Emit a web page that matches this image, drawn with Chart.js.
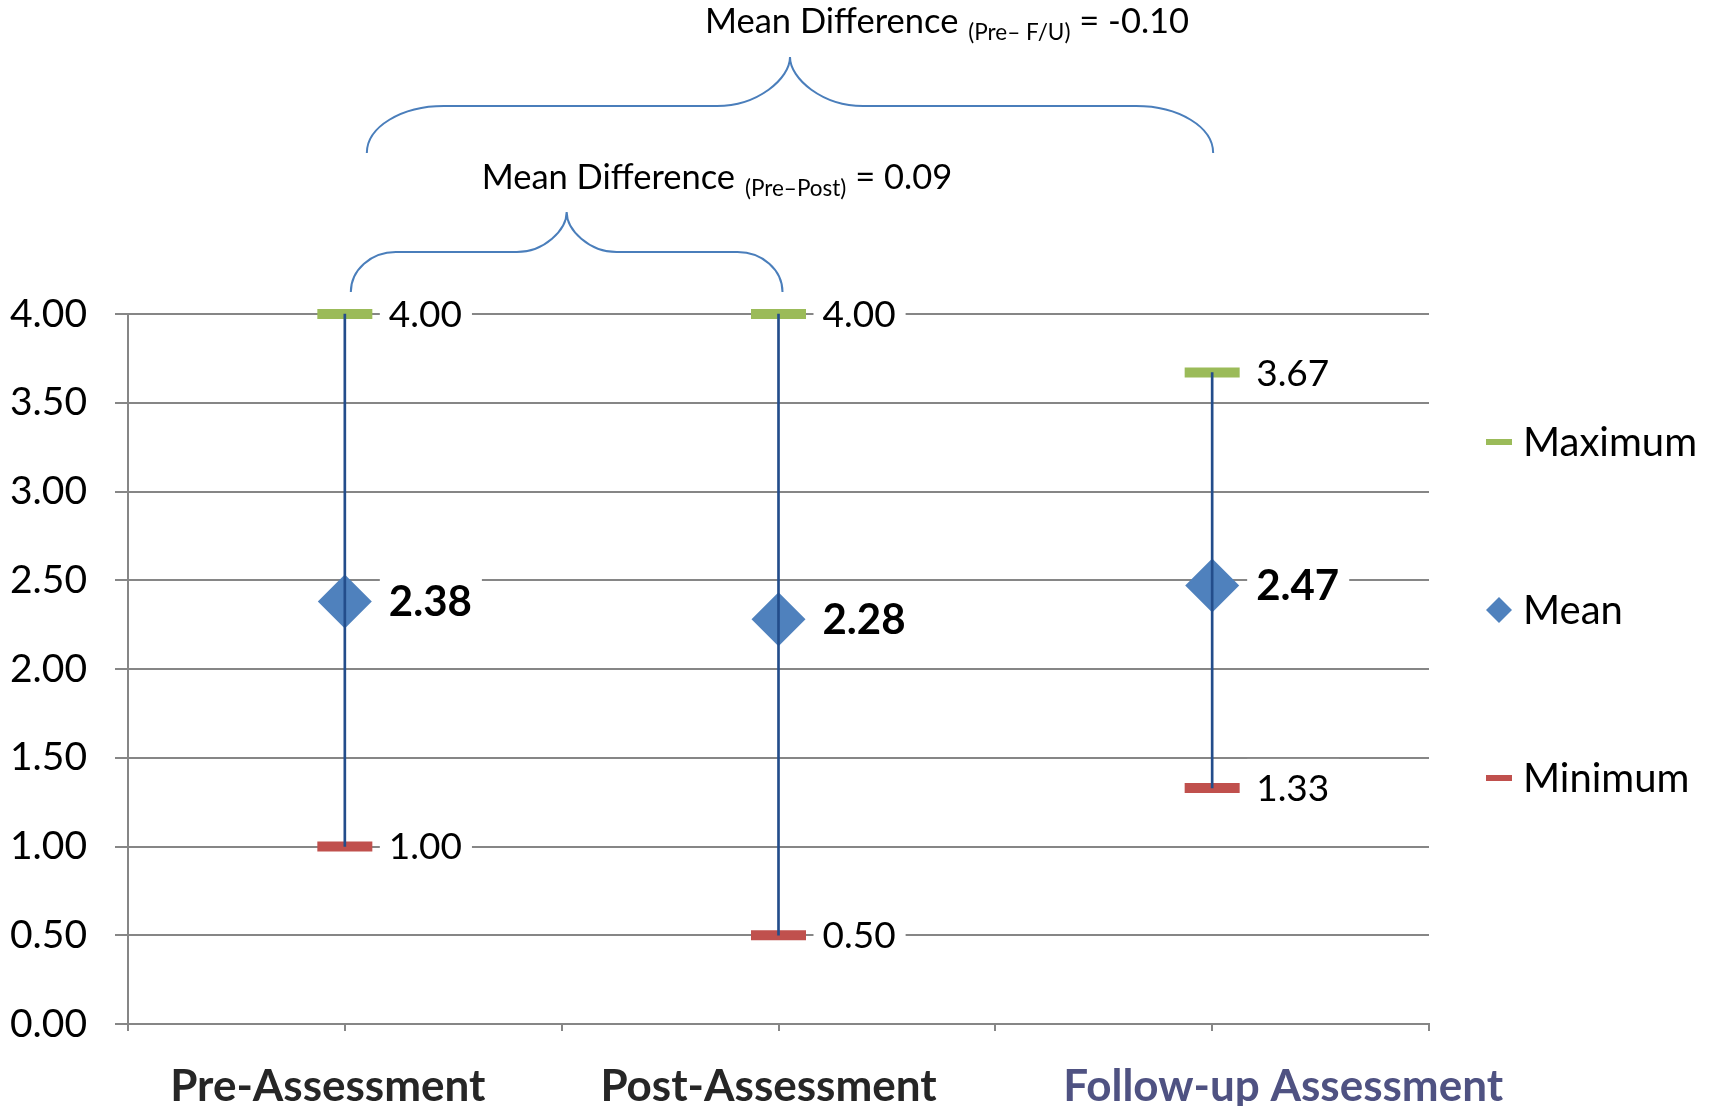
<!DOCTYPE html>
<html>
<head>
<meta charset="utf-8">
<script src="https://cdn.jsdelivr.net/npm/chart.js@4.4.1/dist/chart.umd.min.js"></script>
<style>
  html, body { margin: 0; padding: 0; background: #fff; }
  #wrap { width: 1714px; height: 1106px; position: relative; }
</style>
</head>
<body>
<div id="wrap"><canvas id="chart"></canvas></div>
<script>
// Chart data
const categories = ['Pre-Assessment', 'Post-Assessment', 'Follow-up Assessment'];
const maxValues = [4.00, 4.00, 3.67];
const meanValues = [2.38, 2.28, 2.47];
const minValues = [1.00, 0.50, 1.33];
const seriesNames = ['Maximum', 'Mean', 'Minimum'];

// Mean difference annotations (pairs of category indexes)
const diffPairs = [[0, 1], [0, 2]];
const diffSubscripts = ['(Pre\u2013Post)', '(Pre\u2013 F/U)'];
const diffValues = ['0.09', '-0.10'];

const FONT = 'Lato, "Open Sans", sans-serif';
const GRID = '#868686';

// category centre on the linear x axis
const xPos = i => i + 0.5;

// Value labels with white boxes to the right of each marker
const valueLabels = {
    id: 'valueLabels',
    afterDatasetsDraw(chart) {
        const ctx = chart.ctx;
        ctx.save();
        chart.data.datasets.forEach((ds, di) => {
            if (!ds.labelFont) return;
            const meta = chart.getDatasetMeta(di);
            ctx.font = ds.labelFont;
            ctx.textBaseline = 'middle';
            meta.data.forEach((pt, i) => {
                const txt = ds.data[i].y.toFixed(2);
                const w = ctx.measureText(txt).width;
                ctx.fillStyle = '#fff';
                ctx.fillRect(pt.x + 35, pt.y - 29, w + 19, 58);
                ctx.fillStyle = '#000';
                ctx.fillText(txt, pt.x + 44, pt.y + 1);
            });
        });
        ctx.restore();
    }
};

// Category labels under the x axis (follow-up label was shifted and coloured in the original)
const xLabels = {
    id: 'xLabels',
    afterDraw(chart) {
        const ctx = chart.ctx;
        const xs = chart.scales.x;
        const offsets = [-17, -10, 71];
        const colors = ['#262626', '#262626', '#4F5282'];
        ctx.save();
        ctx.font = 'bold 44px ' + FONT;
        ctx.textAlign = 'center';
        ctx.textBaseline = 'alphabetic';
        categories.forEach((c, i) => {
            ctx.fillStyle = colors[i];
            ctx.fillText(c, xs.getPixelForValue(xPos(i)) + offsets[i], 1101);
        });
        ctx.restore();
    }
};

// Legend on the right side
const sideLegend = {
    id: 'sideLegend',
    afterDraw(chart) {
        const ctx = chart.ctx;
        const x = chart.chartArea.right + 57;
        ctx.save();
        ctx.font = '40px ' + FONT;
        ctx.textBaseline = 'middle';
        const items = chart.data.datasets.filter(ds => ds.legendMark);
        items.forEach((ds, i) => {
            const y = 442 + i * 168;
            ctx.fillStyle = ds.legendColor;
            if (ds.legendMark === 'diamond') {
                ctx.beginPath();
                ctx.moveTo(x + 13, y - 13);
                ctx.lineTo(x + 26, y);
                ctx.lineTo(x + 13, y + 13);
                ctx.lineTo(x, y);
                ctx.closePath();
                ctx.fill();
            } else {
                ctx.fillRect(x, y - 3, 26, 6);
            }
            ctx.fillStyle = '#000';
            ctx.fillText(ds.label, x + 37, y + 1);
        });
        ctx.restore();
    }
};

function drawBrace(ctx, x0, x1, yb, yh, yt, rEnd, rMid) {
    const k = 0.5523;
    const px = (x0 + x1) / 2;
    ctx.beginPath();
    ctx.moveTo(x0, yb);
    ctx.bezierCurveTo(x0, yb - k * (yb - yh), x0 + rEnd - k * rEnd, yh, x0 + rEnd, yh);
    ctx.lineTo(px - rMid, yh);
    ctx.bezierCurveTo(px - rMid + k * rMid, yh, px, yh - k * (yh - yt), px, yt);
    ctx.bezierCurveTo(px, yh - k * (yh - yt), px + rMid - k * rMid, yh, px + rMid, yh);
    ctx.lineTo(x1 - rEnd, yh);
    ctx.bezierCurveTo(x1 - rEnd + k * rEnd, yh, x1, yb - k * (yb - yh), x1, yb);
    ctx.stroke();
}

// Braces with "Mean Difference" text above the chart
const braces = {
    id: 'braces',
    afterDraw(chart) {
        const ctx = chart.ctx;
        const xs = chart.scales.x;
        const top = chart.chartArea.top;
        // per brace: end offsets, heights above plot top, curve radii
        const geo = [
            { dx0: 6, dx1: 4, yb: 22, yh: 62, yt: 102, text: 125, rEnd: 45, rMid: 50 },
            { dx0: 22, dx1: 1, yb: 161, yh: 208, yt: 257, text: 281, rEnd: 77, rMid: 73 }
        ];
        ctx.save();
        diffPairs.forEach((pair, i) => {
            const g = geo[i];
            const x0 = xs.getPixelForValue(xPos(pair[0])) + g.dx0;
            const x1 = xs.getPixelForValue(xPos(pair[1])) + g.dx1;
            ctx.strokeStyle = '#4A7EBB';
            ctx.lineWidth = 2;
            drawBrace(ctx, x0, x1, top - g.yb, top - g.yh, top - g.yt, g.rEnd, g.rMid);

            // text: main + subscript + value
            let tx = (x0 + x1) / 2 - 85;
            const base = top - g.text;
            ctx.fillStyle = '#000';
            ctx.textBaseline = 'alphabetic';
            ctx.font = '34.5px ' + FONT;
            const main = 'Mean Difference ';
            ctx.fillText(main, tx, base);
            tx += ctx.measureText(main).width + 1;
            ctx.font = '22.5px ' + FONT;
            ctx.fillText(diffSubscripts[i], tx, base + 7);
            tx += ctx.measureText(diffSubscripts[i]).width;
            ctx.font = '34.5px ' + FONT;
            ctx.fillText(' = ' + diffValues[i], tx, base);
        });
        ctx.restore();
    }
};

const ctx = document.getElementById('chart').getContext('2d');
new Chart(ctx, {
    type: 'scatter',
    data: {
        datasets: [
            {
                // high-low line
                type: 'bar',
                data: categories.map((c, i) => ({ x: xPos(i), y: [minValues[i], maxValues[i]] })),
                backgroundColor: '#234D8B',
                barThickness: 2,
                clip: false,
                order: 0
            },
            {
                label: seriesNames[0],
                data: maxValues.map((v, i) => ({ x: xPos(i), y: v })),
                pointStyle: 'line',
                pointRadius: 27.5,
                pointHoverRadius: 27.5,
                pointBorderWidth: 10,
                pointHoverBorderWidth: 10,
                borderColor: '#9BBB59',
                backgroundColor: '#9BBB59',
                labelFont: '37px ' + FONT,
                legendMark: 'line',
                legendColor: '#9BBB59',
                clip: false,
                order: 2
            },
            {
                label: seriesNames[1],
                data: meanValues.map((v, i) => ({ x: xPos(i), y: v })),
                pointStyle: 'rectRot',
                pointRadius: 27,
                pointHoverRadius: 27,
                pointBorderWidth: 0,
                borderColor: '#4F81BD',
                backgroundColor: '#4F81BD',
                labelFont: 'bold 42px ' + FONT,
                legendMark: 'diamond',
                legendColor: '#4F81BD',
                clip: false,
                order: 1
            },
            {
                label: seriesNames[2],
                data: minValues.map((v, i) => ({ x: xPos(i), y: v })),
                pointStyle: 'line',
                pointRadius: 27.5,
                pointHoverRadius: 27.5,
                pointBorderWidth: 10,
                pointHoverBorderWidth: 10,
                borderColor: '#C0504D',
                backgroundColor: '#C0504D',
                labelFont: '37px ' + FONT,
                legendMark: 'line',
                legendColor: '#C0504D',
                clip: false,
                order: 2
            }
        ]
    },
    options: {
        responsive: true,
        maintainAspectRatio: false,
        animation: false,
        layout: { padding: { top: 314, right: 285, bottom: 0, left: 0 } },
        plugins: {
            legend: { display: false },
            tooltip: { enabled: false }
        },
        scales: {
            x: {
                type: 'linear',
                min: 0,
                max: 3,
                offset: false,
                ticks: { stepSize: 0.5, autoSkip: false, maxRotation: 0, callback: () => '' },
                grid: { offset: false, drawOnChartArea: false, drawTicks: true, tickLength: 7, color: GRID, lineWidth: 2 },
                border: { color: GRID, width: 2 },
                afterFit: s => { s.height = 82; }
            },
            y: {
                min: 0,
                max: 4,
                ticks: {
                    stepSize: 0.5,
                    padding: 28,
                    color: '#000',
                    font: { family: FONT, size: 39 },
                    callback: v => v.toFixed(2)
                },
                grid: { color: GRID, lineWidth: 2, tickLength: 13 },
                border: { color: GRID, width: 2 },
                afterFit: s => { s.width = 128; }
            }
        }
    },
    plugins: [valueLabels, xLabels, sideLegend, braces]
});
</script>
</body>
</html>
